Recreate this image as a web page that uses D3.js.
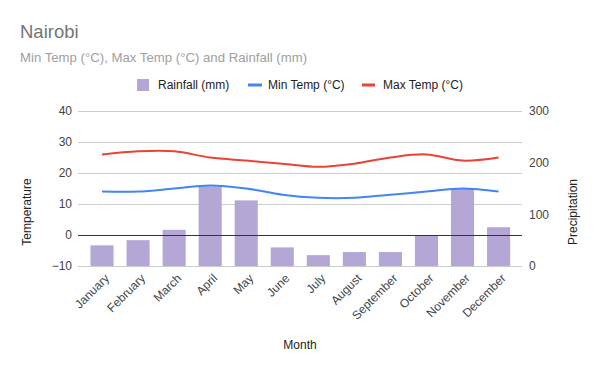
<!DOCTYPE html>
<html><head><meta charset="utf-8">
<script src="https://cdn.jsdelivr.net/npm/d3@7"></script>
<style>body{margin:0;background:#fff}svg{display:block;font-family:Arial,"Liberation Sans",sans-serif}</style>
</head><body><svg id="c" width="600" height="371"></svg>
<script>
const months = ["January","February","March","April","May","June","July","August","September","October","November","December"];
const rainfall = [40, 50, 70, 154, 127, 36, 21, 27, 27, 60, 150, 75];
const minTemp = [14, 14, 15, 16, 15, 13, 12, 12, 13, 14, 15, 14];
const maxTemp = [26, 27, 27, 25, 24, 23, 22, 23, 25, 26, 24, 25];
const tempTicks = [-10, 0, 10, 20, 30, 40];
const rainTicks = [0, 100, 200, 300];

const svg = d3.select("#c");
const pL = 78, pR = 522, pT = 111, pB = 266;
const F = 'Arial,"Liberation Sans",sans-serif';

const x = d3.scaleBand().domain(months).range([84, 516.6]).paddingInner(0.36).paddingOuter(0.18);
const yT = d3.scaleLinear().domain([-10, 40]).range([pB, pT]);
const yR = d3.scaleLinear().domain([0, 300]).range([pB, pT]);
const cx = m => x(m) + x.bandwidth() / 2;

// title
svg.append("text").attr("x", 20).attr("y", 38).attr("font-size", 18.5).attr("fill", "#757575").text("Nairobi");
svg.append("text").attr("x", 20).attr("y", 62).attr("font-size", 13.2).attr("fill", "#a0a0a0").text("Min Temp (°C), Max Temp (°C) and Rainfall (mm)");

// gridlines
svg.append("g").selectAll("line").data(tempTicks).join("line")
  .attr("x1", pL).attr("x2", pR)
  .attr("y1", d => Math.round(yT(d)) + 0.5).attr("y2", d => Math.round(yT(d)) + 0.5)
  .attr("stroke", d => d === 0 ? "#333" : "#ccc").attr("stroke-width", 1);

// left axis
const la = svg.append("g").attr("transform", `translate(72,0)`)
  .call(d3.axisLeft(yT).tickValues(tempTicks).tickSize(0).tickPadding(0));
la.select(".domain").remove();
la.selectAll("text").attr("font-size", 12).attr("fill", "#444").attr("font-family", F);

// right axis
const ra = svg.append("g").attr("transform", `translate(529,0)`)
  .call(d3.axisRight(yR).tickValues(rainTicks).tickSize(0).tickPadding(0));
ra.select(".domain").remove();
ra.selectAll("text").attr("font-size", 12).attr("fill", "#444").attr("font-family", F);

// bars
svg.append("g").selectAll("rect").data(months).join("rect")
  .attr("x", d => x(d)).attr("width", x.bandwidth())
  .attr("y", (d, i) => yR(rainfall[i])).attr("height", (d, i) => yR(0) - yR(rainfall[i]))
  .attr("fill", "#b4a7d6");

// redraw zero line above bars
svg.append("line").attr("x1", pL).attr("x2", pR)
  .attr("y1", Math.round(yT(0)) + 0.5).attr("y2", Math.round(yT(0)) + 0.5)
  .attr("stroke", "#333");

const line = vals => d3.line().x((d, i) => cx(months[i])).y(d => yT(d)).curve(d3.curveCatmullRom.alpha(0.5))(vals);
svg.append("path").attr("d", line(minTemp)).attr("fill", "none").attr("stroke", "#4285f4").attr("stroke-width", 2);
svg.append("path").attr("d", line(maxTemp)).attr("fill", "none").attr("stroke", "#ea4335").attr("stroke-width", 2);

// x labels
svg.append("g").selectAll("text").data(months).join("text")
  .attr("transform", d => `translate(${cx(d) + 5},${276}) rotate(-45)`)
  .attr("text-anchor", "end").attr("dy", "0.35em")
  .attr("font-size", 12).attr("fill", "#444").text(d => d);

// axis titles
svg.append("text").attr("x", 300).attr("y", 349).attr("text-anchor", "middle").attr("font-size", 12).attr("fill", "#222").text("Month");
svg.append("text").attr("transform", "translate(31,212) rotate(-90)").attr("text-anchor", "middle").attr("font-size", 12).attr("fill", "#222").text("Temperature");
svg.append("text").attr("transform", "translate(577,212) rotate(-90)").attr("text-anchor", "middle").attr("font-size", 12).attr("fill", "#222").text("Precipitation");

// legend
const lg = svg.append("g");
lg.append("rect").attr("x", 137).attr("y", 79).attr("width", 12).attr("height", 12).attr("fill", "#b4a7d6");
lg.append("text").attr("x", 158).attr("y", 89).attr("font-size", 12).attr("fill", "#222").text("Rainfall (mm)");
lg.append("line").attr("x1", 248).attr("x2", 262).attr("y1", 85).attr("y2", 85).attr("stroke", "#4285f4").attr("stroke-width", 3);
lg.append("text").attr("x", 268).attr("y", 89).attr("font-size", 12).attr("fill", "#222").text("Min Temp (°C)");
lg.append("line").attr("x1", 362).attr("x2", 375).attr("y1", 85).attr("y2", 85).attr("stroke", "#ea4335").attr("stroke-width", 3);
lg.append("text").attr("x", 383).attr("y", 89).attr("font-size", 12).attr("fill", "#222").text("Max Temp (°C)");
</script></body></html>
